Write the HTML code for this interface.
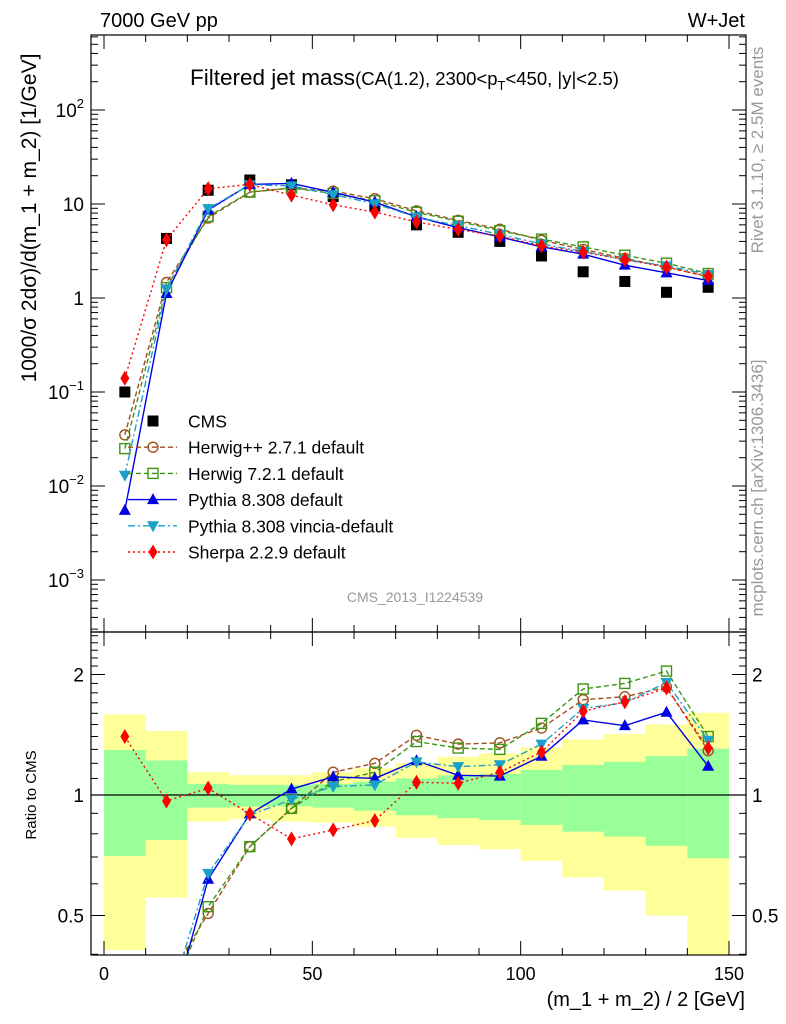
<!DOCTYPE html>
<html><head><meta charset="utf-8"><style>
html,body{margin:0;padding:0;background:#fff;overflow:hidden;width:786px;height:1024px}
svg{display:block;font-family:"Liberation Sans",sans-serif}
</style></head><body>
<svg id="chart" width="786" height="1024" viewBox="0 0 786 1024" xmlns="http://www.w3.org/2000/svg">
<defs>
<clipPath id="clipMain"><rect x="91" y="35" width="655" height="597"/></clipPath>
<clipPath id="clipRatio"><rect x="91" y="632" width="655" height="323"/></clipPath>
</defs>
<g id="bands" clip-path="url(#clipRatio)"></g>
<g id="grid"></g>
<g id="series"></g>
<text x="100" y="27" font-size="20">7000 GeV pp</text>
<text x="745" y="27" font-size="20" text-anchor="end">W+Jet</text>
<text x="190" y="85" font-size="22.5">Filtered jet mass<tspan font-size="18.5">(CA(1.2), 2300&lt;p<tspan font-size="13" dy="5">T</tspan><tspan dy="-5">&lt;450, |y|&lt;2.5)</tspan></tspan></text>
<text x="415" y="602" font-size="14" fill="#999" text-anchor="middle">CMS_2013_I1224539</text>
<text transform="translate(763,150) rotate(-90)" font-size="17" fill="#999" text-anchor="middle">Rivet 3.1.10, ≥ 2.5M events</text>
<text transform="translate(763,488) rotate(-90)" font-size="17" fill="#999" text-anchor="middle">mcplots.cern.ch [arXiv:1306.3436]</text>
<text transform="translate(36,218) rotate(-90)" font-size="21" text-anchor="middle">1000/σ 2dσ)/d(m_1 + m_2) [1/GeV]</text>
<text transform="translate(36,795) rotate(-90)" font-size="15" text-anchor="middle">Ratio to CMS</text>
<text x="745" y="1006" font-size="20" text-anchor="end">(m_1 + m_2) / 2 [GeV]</text>
<g id="legend"></g>
</svg>
<script>
const binCenters=[5,15,25,35,45,55,65,75,85,95,105,115,125,135,145];
const binEdges=[0,10,20,30,40,50,60,70,80,90,100,110,120,130,140,150];
const cmsValues=[0.1,4.3,14,18,16,12,9.5,6,5,4,2.8,1.9,1.5,1.15,1.3];
const ratioHerwigPP=[0.35,0.34,0.506,0.743,0.926,1.14,1.20,1.41,1.34,1.35,1.47,1.73,1.76,1.86,1.29];
const ratioHerwig7=[0.25,0.30,0.526,0.743,0.926,1.08,1.14,1.36,1.31,1.30,1.51,1.84,1.90,2.04,1.40];
const ratioPythia=[0.055,0.26,0.616,0.897,1.035,1.11,1.10,1.218,1.12,1.115,1.25,1.54,1.49,1.61,1.18];
const ratioVincia=[0.13,0.29,0.637,0.89,0.975,1.05,1.06,1.21,1.177,1.19,1.34,1.645,1.70,1.91,1.37];
const ratioSherpa=[1.40,0.966,1.04,0.897,0.777,0.818,0.863,1.076,1.07,1.14,1.28,1.62,1.71,1.85,1.31];
const yellowUp=[1.59,1.445,1.14,1.12,1.12,1.14,1.166,1.2,1.246,1.27,1.315,1.377,1.42,1.50,1.605];
const yellowDn=[0.41,0.554,0.858,0.87,0.858,0.853,0.834,0.782,0.75,0.732,0.685,0.623,0.577,0.50,0.37];
const greenUp=[1.295,1.22,1.065,1.06,1.06,1.065,1.08,1.10,1.12,1.13,1.155,1.188,1.21,1.25,1.305];
const greenDn=[0.704,0.772,0.93,0.935,0.937,0.93,0.914,0.89,0.875,0.866,0.842,0.81,0.787,0.747,0.695];
const xTicks=[0,50,100,150];
const yTicks=[100,10,1,0.1,0.01,0.001];
const yTickLabels=["10^2","10","1","10^-1","10^-2","10^-3"];
const rTicks=[0.5,1,2];
const rTickLabels=["0.5","1","2"];

const NS="http://www.w3.org/2000/svg";
const X=v=>104+v*625/150;
const Y=v=>298-94*Math.log10(v);
const R=r=>795-120.5*Math.log2(r);
function el(tag,attrs,parent){const e=document.createElementNS(NS,tag);for(const k in attrs)e.setAttribute(k,attrs[k]);parent.appendChild(e);return e;}
const gB=document.getElementById('bands'),gG=document.getElementById('grid'),gS=document.getElementById('series'),gL=document.getElementById('legend');

for(let i=0;i<binCenters.length;i++){
  const x0=X(binEdges[i]),x1=X(binEdges[i+1]);
  const y=el('rect',{x:x0,y:R(yellowUp[i]),width:x1-x0,height:R(yellowDn[i])-R(yellowUp[i]),fill:'#ffff99'},gB);
  
  
  const g=el('rect',{x:x0,y:R(greenUp[i]),width:x1-x0,height:R(greenDn[i])-R(greenUp[i]),fill:'#99ff99'},gB);
  
  
}
const f1=el('rect',{x:91,y:35,width:655,height:597,fill:'none',stroke:'#000','stroke-width':1.2},gG);


const f2=el('rect',{x:91,y:632,width:655,height:323,fill:'none',stroke:'#000','stroke-width':1.2},gG);


const one=el('line',{x1:91,x2:746,y1:R(1),y2:R(1),stroke:'#000','stroke-width':1.2},gG);


for(let v=0;v<=150;v+=10){
  const maj=v%50===0,L=maj?14:7;
  el('line',{x1:X(v),x2:X(v),y1:632,y2:632-L,stroke:'#000'},gG);
  el('line',{x1:X(v),x2:X(v),y1:35,y2:35+L,stroke:'#000'},gG);
  el('line',{x1:X(v),x2:X(v),y1:955,y2:955-L,stroke:'#000'},gG);
  el('line',{x1:X(v),x2:X(v),y1:632,y2:632+L,stroke:'#000'},gG);
}
xTicks.forEach(v=>{const t=el('text',{x:X(v),y:980,'font-size':18,'text-anchor':'middle'},gG);t.textContent=v;
  
  });
for(let d=-4;d<=2;d++){for(let m=1;m<=9;m++){const v=m*Math.pow(10,d);const y=Y(v);if(y<35||y>632)continue;const L=m===1?14:7;
  el('line',{x1:91,x2:91+L,y1:y,y2:y,stroke:'#000'},gG);el('line',{x1:746,x2:746-L,y1:y,y2:y,stroke:'#000'},gG);}}
yTicks.forEach((v,i)=>{const s=yTickLabels[i];const t=el('text',{x:84,y:Y(v)+7,'font-size':19,'text-anchor':'end'},gG);
  
  
  if(s.includes('^')){const [b,e]=s.split('^');t.textContent=b;const sp=el('tspan',{dy:-9,'font-size':13},t);sp.textContent=e.replace('-','−');}else t.textContent=s;});
[0.4,0.5,0.6,0.7,0.8,0.9,1,1.1,1.2,1.3,1.4,1.5,1.6,1.7,1.8,1.9,2,2.1,2.2,2.3,2.4,2.5].forEach(v=>{const y=R(v);if(y<632||y>955)return;const L=(v===0.5||v===1||v===2)?14:7;
  el('line',{x1:91,x2:91+L,y1:y,y2:y,stroke:'#000'},gG);el('line',{x1:746,x2:746-L,y1:y,y2:y,stroke:'#000'},gG);});
rTicks.forEach((v,i)=>{[[84,'end'],[752,'start']].forEach(([x,a])=>{const t=el('text',{x:x,y:R(v)+7,'font-size':19,'text-anchor':a},gG);t.textContent=rTickLabels[i];
  
  });});

function marker(kind,x,y,col,parent){
  if(kind==='sq') return el('rect',{x:x-5.5,y:y-5.5,width:11,height:11,fill:'#000'},parent);
  if(kind==='osq') return el('rect',{x:x-5,y:y-5,width:10,height:10,fill:'none',stroke:col,'stroke-width':1.4},parent);
  if(kind==='oc') return el('circle',{cx:x,cy:y,r:5,fill:'none',stroke:col,'stroke-width':1.4},parent);
  if(kind==='tu') return el('polygon',{points:`${x},${y-6.5} ${x-6},${y+4.5} ${x+6},${y+4.5}`,fill:col},parent);
  if(kind==='td') return el('polygon',{points:`${x},${y+6.5} ${x-6},${y-4.5} ${x+6},${y-4.5}`,fill:col},parent);
  if(kind==='di') return el('polygon',{points:`${x},${y-7.5} ${x-4.5},${y} ${x},${y+7.5} ${x+4.5},${y}`,fill:col},parent);
}
const series=[
 {name:'herwigpp',label:'Herwig++ 2.7.1 default',r:ratioHerwigPP,col:'#a0501e',dash:'5,3',mk:'oc'},
 {name:'herwig7',label:'Herwig 7.2.1 default',r:ratioHerwig7,col:'#3c9614',dash:'5,3',mk:'osq'},
 {name:'pythia',label:'Pythia 8.308 default',r:ratioPythia,col:'#0000e6',dash:'',mk:'tu'},
 {name:'vincia',label:'Pythia 8.308 vincia-default',r:ratioVincia,col:'#1ca0c8',dash:'7,3,2,3',mk:'td'},
 {name:'sherpa',label:'Sherpa 2.2.9 default',r:ratioSherpa,col:'#ff0000',dash:'2,3',mk:'di'}
];
const gc=el('g',{'clip-path':'url(#clipMain)'},gS);


binCenters.forEach((c,i)=>{marker('sq',X(c),Y(cmsValues[i]),'#000',gc);});
series.forEach(s=>{
  const gm=el('g',{'clip-path':'url(#clipMain)'},gS);
  
  
  const gr=el('g',{'clip-path':'url(#clipRatio)'},gS);
  
  
  const pm=binCenters.map((c,i)=>X(c)+','+Y(cmsValues[i]*s.r[i])).join(' ');
  const pr=binCenters.map((c,i)=>X(c)+','+R(s.r[i])).join(' ');
  const a={fill:'none',stroke:s.col,'stroke-width':1.4};if(s.dash)a['stroke-dasharray']=s.dash;
  el('polyline',Object.assign({points:pm},a),gm);
  el('polyline',Object.assign({points:pr},a),gr);
  binCenters.forEach((c,i)=>{marker(s.mk,X(c),Y(cmsValues[i]*s.r[i]),s.col,gm);marker(s.mk,X(c),R(s.r[i]),s.col,gr);});
});
const ly0=421,lmx=153;
const e0=el('g',{},gL);


marker('sq',lmx,ly0,'#000',e0);
const t0=el('text',{x:188,y:ly0+6.5,'font-size':17.5},e0);t0.textContent='CMS';
series.forEach((s,i)=>{const y=ly0+26.2*(i+1);
  const g=el('g',{},gL);
  
  
  const a={x1:128,x2:177,y1:y,y2:y,stroke:s.col,'stroke-width':1.4};if(s.dash)a['stroke-dasharray']=s.dash;
  el('line',a,g);marker(s.mk,lmx,y,s.col,g);
  const t=el('text',{x:188,y:y+6.5,'font-size':17.5},g);t.textContent=s.label;});
</script>
</body></html>
